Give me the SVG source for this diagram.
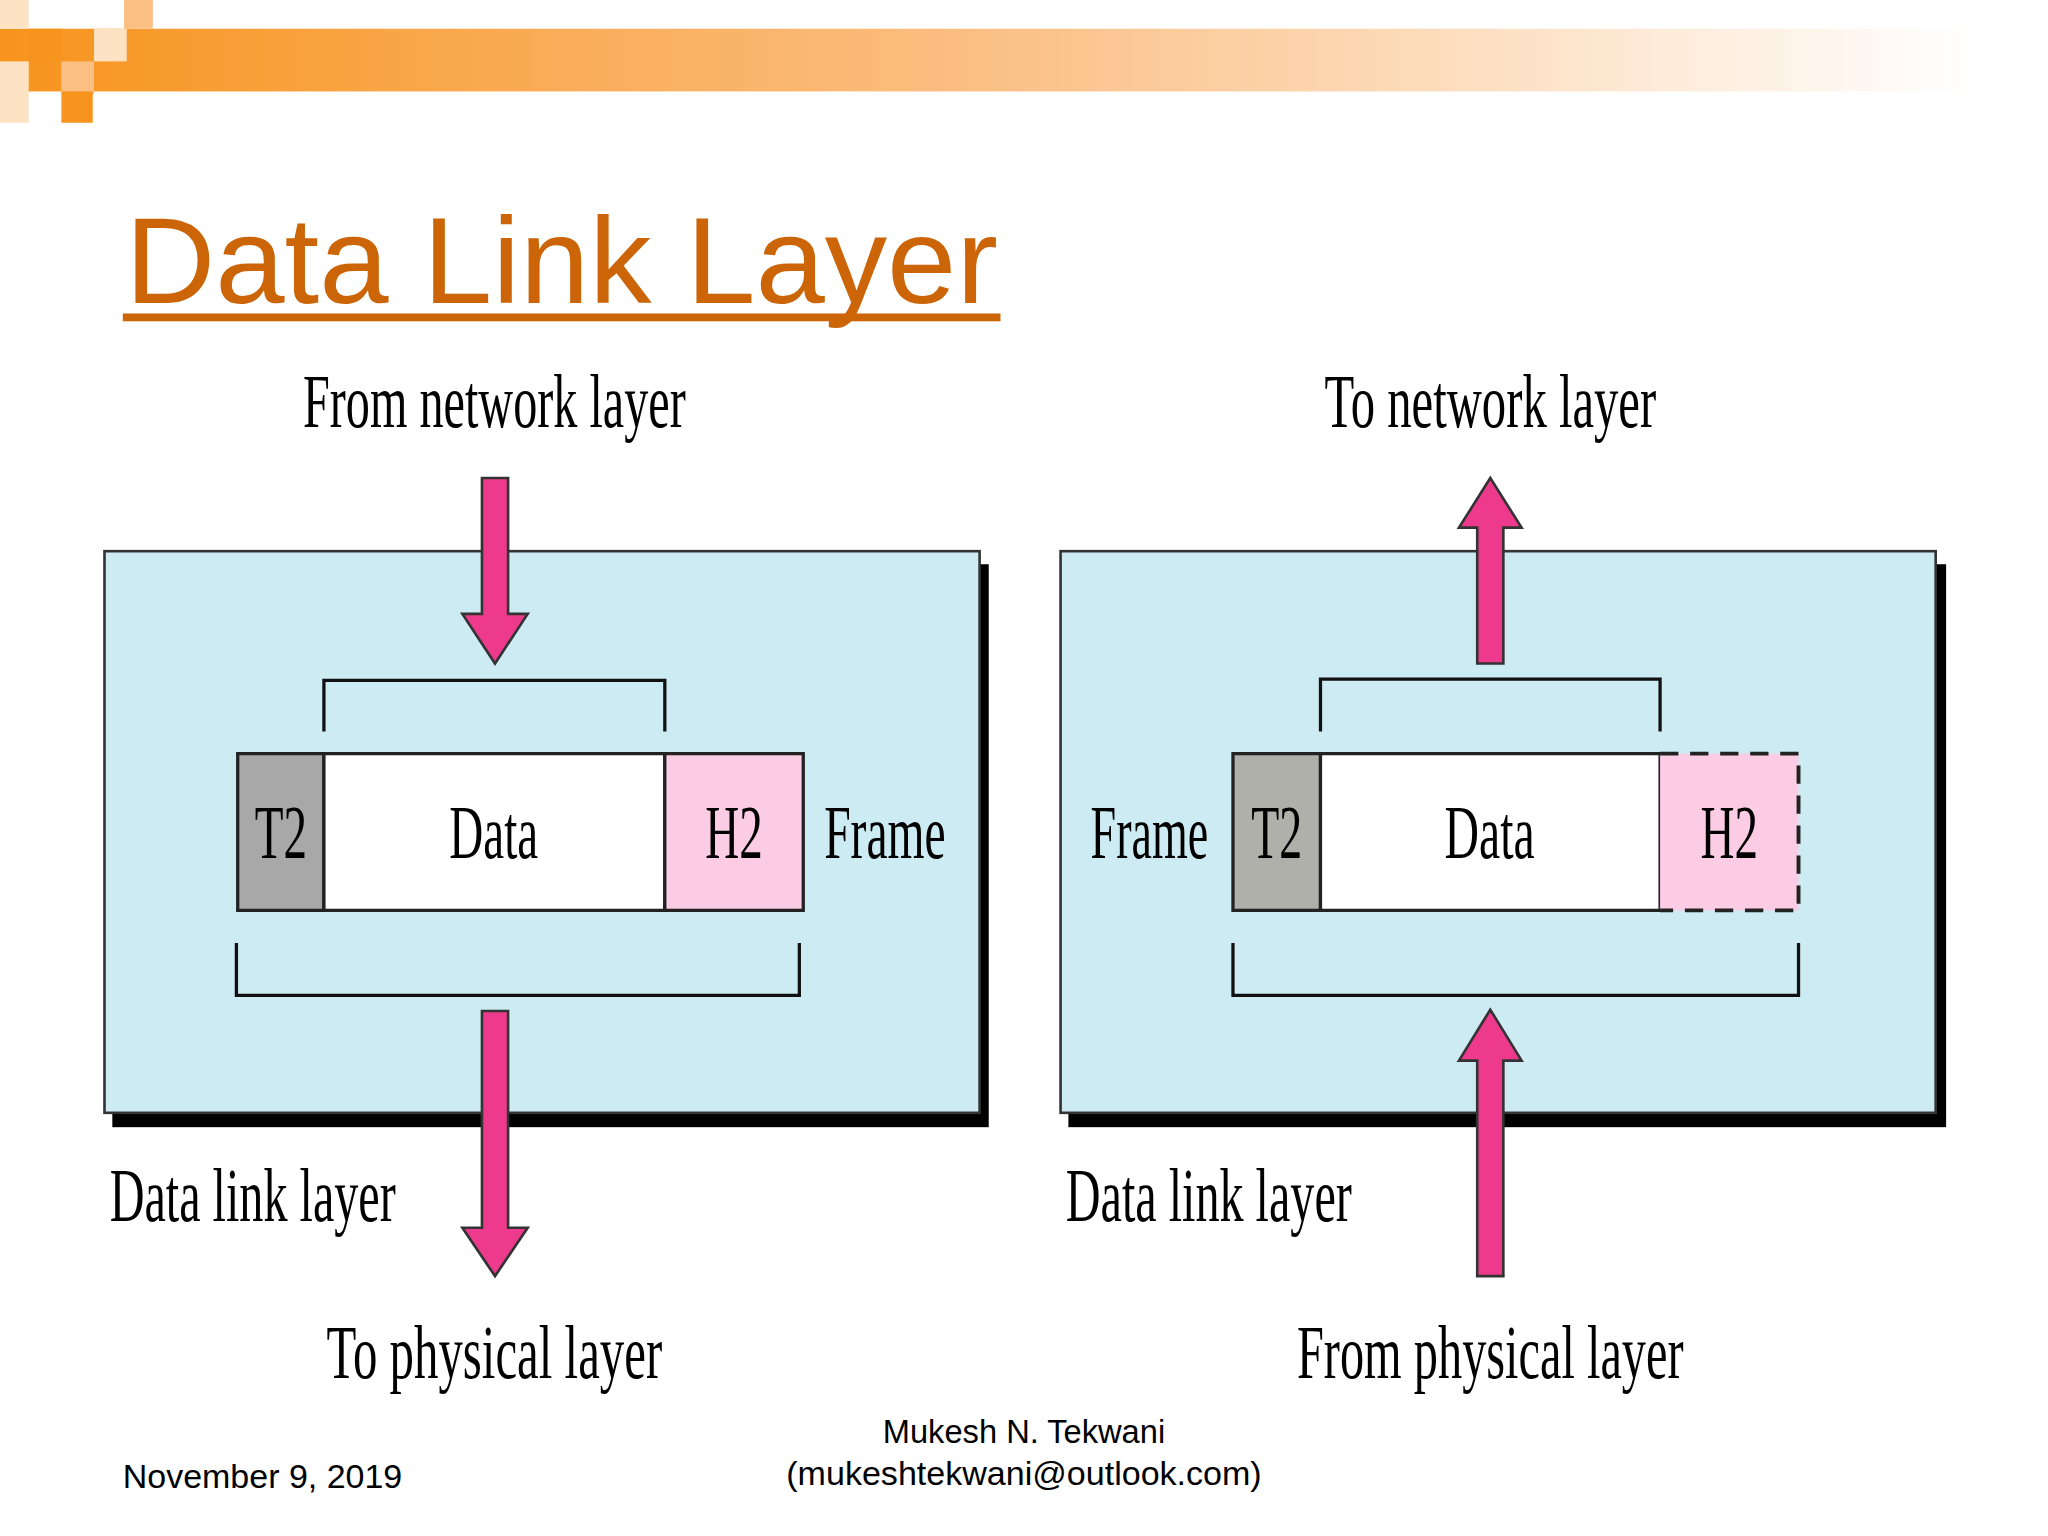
<svg xmlns="http://www.w3.org/2000/svg" width="2048" height="1536" viewBox="0 0 2048 1536">
<defs>
<linearGradient id="bar" x1="0" x2="1" y1="0" y2="0">
<stop offset="0" stop-color="#F7941D"/><stop offset="0.5" stop-color="#FBBF84"/><stop offset="1" stop-color="#FFFFFF"/>
</linearGradient>
<style>
.lbl{font-family:"Liberation Serif","Times New Roman",serif;font-size:58px;fill:#000}
.box{fill:#CDEBF2;stroke:#333;stroke-width:2}
.arr{fill:#EE3A8C;stroke:#333;stroke-width:2}
.br{fill:none;stroke:#111;stroke-width:2.5}
.ft{font-family:"Liberation Sans",Arial,sans-serif;font-size:25px;fill:#000}
</style>
</defs>
<rect width="2048" height="1536" fill="#fff"/>
<g transform="scale(1.30612)">
<g id="header">
<rect x="0" y="22" width="1510" height="48" fill="url(#bar)"/>
<rect x="0" y="0" width="22" height="22" fill="#FDE3C4"/>
<rect x="22" y="22" width="25" height="25" fill="#F7941D"/>
<rect x="47" y="47" width="25" height="25" fill="#FBBF84"/>
<rect x="72" y="22" width="25" height="25" fill="#FDE3C4"/>
<rect x="95" y="0" width="22" height="22" fill="#FBBF84"/>
<rect x="47" y="70" width="24" height="24" fill="#F7941D"/>
<rect x="0" y="47" width="22" height="47" fill="#FDE3C4"/>
</g>
<g id="title">
<text x="96" y="232" font-family="Liberation Sans,Arial,sans-serif" font-size="94" fill="#CC6508" textLength="668" lengthAdjust="spacingAndGlyphs">Data Link Layer</text>
<rect x="94" y="240" width="672" height="6" fill="#CC6508"/>
</g>
<g id="left">
<rect x="86" y="432" width="671" height="431" fill="#000"/>
<rect class="box" x="80" y="422" width="670" height="430"/>
<rect x="182" y="577" width="66" height="120" fill="#A8A8A8" stroke="#222" stroke-width="2.5"/>
<rect x="248" y="577" width="261" height="120" fill="#fff" stroke="#222" stroke-width="2.5"/>
<rect x="509" y="577" width="106" height="120" fill="#FCCCE4" stroke="#222" stroke-width="2.5"/>
<path class="br" d="M248 560V521H509V560M181 722V762H612V722"/>
<text class="lbl" x="195" y="657" textLength="40" lengthAdjust="spacingAndGlyphs">T2</text>
<text class="lbl" x="344" y="657" textLength="68" lengthAdjust="spacingAndGlyphs">Data</text>
<text class="lbl" x="540" y="657" textLength="44" lengthAdjust="spacingAndGlyphs">H2</text>
<text class="lbl" x="631" y="657" textLength="93" lengthAdjust="spacingAndGlyphs">Frame</text>
</g>
<g id="right">
<rect x="818" y="432" width="672" height="431" fill="#000"/>
<rect class="box" x="812" y="422" width="670" height="430"/>
<rect x="944" y="577" width="67" height="120" fill="#B0B0AA" stroke="#222" stroke-width="2.5"/>
<rect x="1011" y="577" width="260" height="120" fill="#fff" stroke="#222" stroke-width="2.5"/>
<rect x="1271" y="577" width="106" height="120" fill="#FCCCE4"/>
<path d="M1271 577H1377V697H1271" fill="none" stroke="#222" stroke-width="3" stroke-dasharray="14,9"/>
<path class="br" d="M1011 560V520H1271V560M944 722V762H1377V722"/>
<text class="lbl" x="958" y="657" textLength="39" lengthAdjust="spacingAndGlyphs">T2</text>
<text class="lbl" x="1106" y="657" textLength="69" lengthAdjust="spacingAndGlyphs">Data</text>
<text class="lbl" x="1302" y="657" textLength="44" lengthAdjust="spacingAndGlyphs">H2</text>
<text class="lbl" x="835" y="657" textLength="90" lengthAdjust="spacingAndGlyphs">Frame</text>
</g>
<g id="connectors">
<path class="arr" d="M369 366H389V470H404L379 508L354 470H369Z"/>
<path class="arr" d="M369 774H389V940H404L379 977L354 940H369Z"/>
<path class="arr" d="M1131 508H1151V404H1165L1141 366L1117 404H1131Z"/>
<path class="arr" d="M1131 977H1151V812H1165L1141 773L1117 812H1131Z"/>
</g>
<g id="labels">
<text class="lbl" x="232" y="327" textLength="293" lengthAdjust="spacingAndGlyphs">From network layer</text>
<text class="lbl" x="1014" y="327" textLength="254" lengthAdjust="spacingAndGlyphs">To network layer</text>
<text class="lbl" x="84" y="935" textLength="219" lengthAdjust="spacingAndGlyphs">Data link layer</text>
<text class="lbl" x="816" y="935" textLength="219" lengthAdjust="spacingAndGlyphs">Data link layer</text>
<text class="lbl" x="250" y="1055" textLength="257" lengthAdjust="spacingAndGlyphs">To physical layer</text>
<text class="lbl" x="993" y="1055" textLength="296" lengthAdjust="spacingAndGlyphs">From physical layer</text>
</g>
<g id="footer">
<text class="ft" x="94" y="1139" textLength="214" lengthAdjust="spacingAndGlyphs">November 9, 2019</text>
<text class="ft" x="784" y="1105" text-anchor="middle">Mukesh N. Tekwani</text>
<text class="ft" x="784" y="1137" text-anchor="middle" textLength="364" lengthAdjust="spacingAndGlyphs">(mukeshtekwani@outlook.com)</text>
</g>
</g>
</svg>
